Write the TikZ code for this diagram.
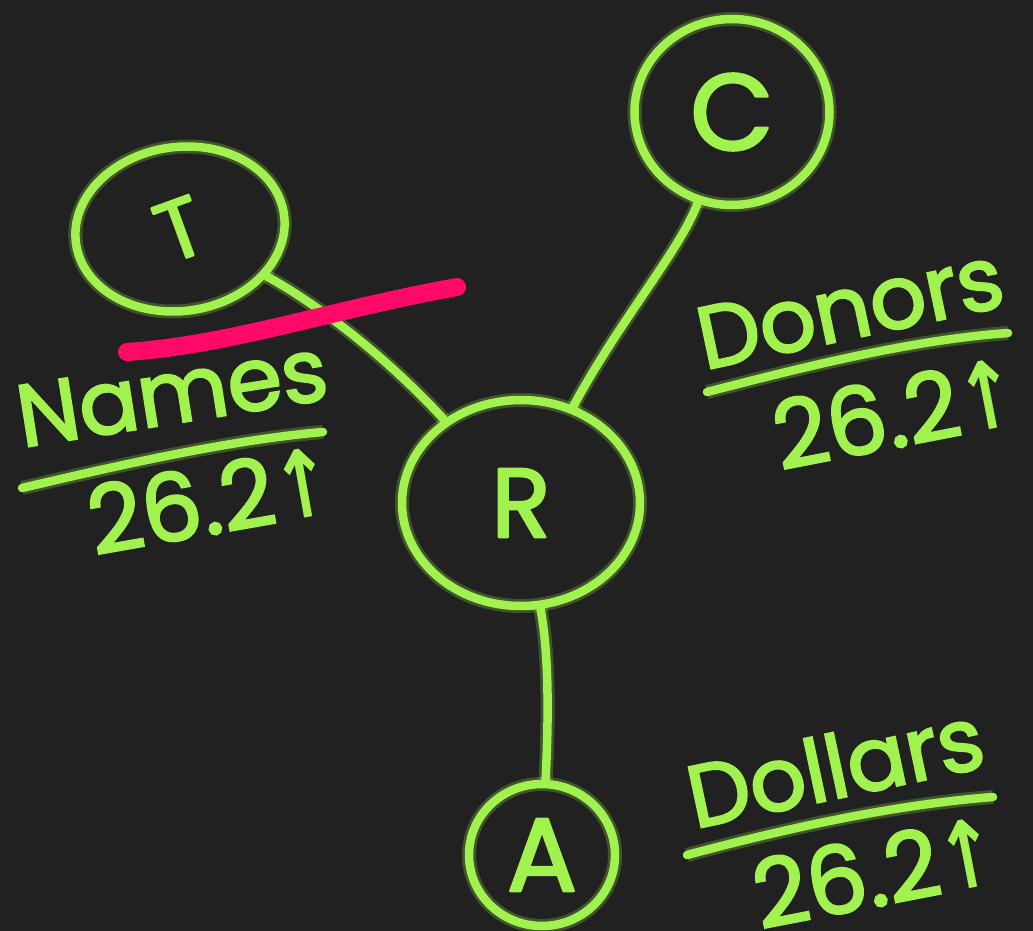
\documentclass[tikz,border=0pt]{standalone}
\usepackage{fontspec}
\setmainfont{Poppins}
\newfontfamily\hand{Poppins}[FakeBold=2.5]
\newfontfamily\symfont{DejaVu Sans}
\usetikzlibrary{shapes.geometric}
\definecolor{bg}{HTML}{212121}
\definecolor{lime}{HTML}{A2F24F}
\definecolor{hot}{HTML}{FF0A68}
\tikzset{
  stroke/.style={draw=lime, line width=8.5pt, line cap=round, line join=round,
    preaction={draw=lime, draw opacity=0.25, line width=14pt}},
  bubble/.style={ellipse, stroke, inner sep=0pt, text=lime},
  lbl/.style={text=lime, inner sep=0pt, font=\fontsize{88}{88}\hand},
  num/.style={text=lime, inner sep=0pt, font=\fontsize{94}{94}\hand},
  strike/.style={draw=hot, line width=18pt, line cap=round}
}
\newcommand{\uparr}{\scalebox{0.75}[1]{\symfont\bfseries ↑}}
\begin{document}
\begin{tikzpicture}[x=1pt,y=-1pt]
\fill[bg] (0,0) rectangle (1033,931);
\useasboundingbox (0,0) rectangle (1033,931);

% bubbles
\node[bubble, minimum width=210pt, minimum height=164pt, rotate=8,
  font=\fontsize{84}{84}\hand] (T) at (180,229) {\rotatebox{12}{T}};
\node[bubble, minimum width=195pt, minimum height=186pt,
  font=\fontsize{108}{108}\hand] (C) at (732,112) {C};
\node[bubble, minimum width=238pt, minimum height=206pt,
  font=\fontsize{98}{98}\hand] (R) at (521,503) {R};
\node[bubble, minimum width=146pt, minimum height=142pt,
  font=\fontsize{104}{104}\hand] (A) at (542,855) {A};

% connectors
\draw[stroke] (T) .. controls (310,300) and (380,350) .. (R);
\draw[stroke] (C) .. controls (680,250) and (620,320) .. (R);
\draw[stroke] (R) .. controls (550,660) and (548,730) .. (A);

% labels
\node[lbl, rotate=9] (names) at (172,393) {Names};
\draw[stroke] (22,488) .. controls (120,465) and (230,440) .. (323,432);
\node[num, rotate=10] (namesv) at (210,500) {26.2\uparr};

\node[lbl, rotate=12] (donors) at (850,308) {Donors};
\draw[stroke] (707,392) .. controls (800,368) and (910,340) .. (1008,333);
\node[num, rotate=11] (donorsv) at (895,413) {26.2\uparr};

\node[lbl, rotate=12] (dollars) at (835,766) {Dollars};
\draw[stroke] (687,855) .. controls (780,830) and (890,805) .. (993,797);
\node[num, rotate=11] (dollarsv) at (875,872) {26.2\uparr};

% pink strike
\draw[strike] (127,352) .. controls (230,345) and (330,310) .. (457,287);
\end{tikzpicture}
\end{document}
